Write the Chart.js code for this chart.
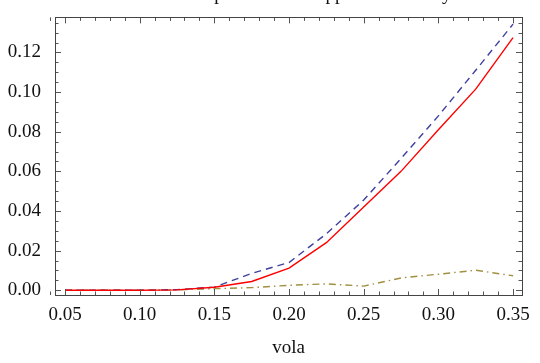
<!DOCTYPE html>
<html>
<head>
<meta charset="utf-8">
<script src="https://cdn.jsdelivr.net/npm/chart.js@4/dist/chart.umd.min.js"></script>
<style>
  html, body { margin: 0; padding: 0; background: #fff; }
  #wrap { width: 540px; height: 363px; }
</style>
</head>
<body>
<div id="wrap"><canvas id="volaChart" width="540" height="363"></canvas></div>
<script>
// values
const titleText = 'Relative error of the price and the approximation by vola';
const vola = [0.05, 0.075, 0.10, 0.125, 0.15, 0.175, 0.20, 0.225, 0.25, 0.275, 0.30, 0.325, 0.35];
const priceRed = [0, 0, 0, 0.0002, 0.0015, 0.0044, 0.0112, 0.024, 0.042, 0.060, 0.081, 0.1015, 0.1275];
const priceBlue = [0, 0, 0, 0.0003, 0.0016, 0.0085, 0.014, 0.0285, 0.0455, 0.0665, 0.088, 0.111, 0.1343];
const priceOlive = [0, 0, 0, 0.0002, 0.0008, 0.0013, 0.0025, 0.0032, 0.0021, 0.0062, 0.0081, 0.0101, 0.0073];
const xTicks = [0.05, 0.10, 0.15, 0.20, 0.25, 0.30, 0.35];
const yTicks = [0.00, 0.02, 0.04, 0.06, 0.08, 0.10, 0.12];

const serif = 'Liberation Serif';
const toPoints = ys => vola.map((v, i) => ({ x: v, y: ys[i] }));

// Mathematica style frame: ticks pointing inwards on all four sides
const frameTicks = {
  id: 'frameTicks',
  afterDraw(chart) {
    const { ctx, chartArea: a, scales: { x, y } } = chart;
    ctx.save();
    ctx.strokeStyle = '#555';
    ctx.lineWidth = 1;
    ctx.beginPath();
    // minor x ticks every 0.01
    for (let k = 4; k <= 35; k++) {
      const px = Math.round(x.getPixelForValue(k / 100)) + 0.5;
      const len = k % 5 === 0 ? 6 : 3.5;
      ctx.moveTo(px, a.bottom); ctx.lineTo(px, a.bottom - len);
      ctx.moveTo(px, a.top); ctx.lineTo(px, a.top + len);
    }
    // minor y ticks every 0.005
    for (let k = 0; k <= 27; k++) {
      const py = Math.round(y.getPixelForValue(k * 0.005)) + 0.5;
      const len = k % 4 === 0 ? 6 : 3.5;
      ctx.moveTo(a.left, py); ctx.lineTo(a.left + len, py);
      ctx.moveTo(a.right, py); ctx.lineTo(a.right - len, py);
    }
    ctx.stroke();
    ctx.strokeStyle = '#444';
    ctx.strokeRect(Math.round(a.left) + 0.5, Math.round(a.top) + 0.5,
      Math.round(a.right - a.left), Math.round(a.bottom - a.top));
    // plot label, mostly above the visible image
    ctx.fillStyle = '#111';
    ctx.font = '19px "' + serif + '"';
    ctx.textAlign = 'center';
    ctx.textBaseline = 'alphabetic';
    ctx.fillText(titleText, (a.left + a.right) / 2 - 16, 0);
    ctx.restore();
  }
};

const ctx = document.getElementById('volaChart').getContext('2d');
new Chart(ctx, {
  type: 'line',
  data: {
    datasets: [
      {
        label: 'price',
        data: toPoints(priceRed),
        borderColor: '#ff0000',
        borderWidth: 1.4,
        pointRadius: 0,
        tension: 0
      },
      {
        label: 'approximation',
        data: toPoints(priceBlue),
        borderColor: '#40409e',
        borderWidth: 1.4,
        borderDash: [7, 5],
        pointRadius: 0,
        tension: 0
      },
      {
        label: 'error',
        data: toPoints(priceOlive),
        borderColor: '#a09040',
        borderWidth: 1.4,
        borderDash: [7, 4, 1.5, 4],
        pointRadius: 0,
        tension: 0
      }
    ]
  },
  options: {
    responsive: false,
    animation: false,
    layout: { padding: { top: 7, right: 18, left: 0, bottom: 0 } },
    plugins: {
      legend: { display: false },
      tooltip: { enabled: false }
    },
    scales: {
      x: {
        type: 'linear',
        min: 0.0433,
        max: 0.356,
        grid: { display: false },
        border: { display: false },
        afterFit: s => { s.height = 68; },
        afterBuildTicks: s => { s.ticks = xTicks.map(v => ({ value: v })); },
        ticks: {
          padding: 1,
          color: '#111',
          font: { family: serif, size: 19 },
          callback: v => v.toFixed(2)
        },
        title: {
          display: true,
          text: 'vola',
          color: '#111',
          font: { family: serif, size: 19 },
          padding: { top: 0, bottom: 4 }
        }
      },
      y: {
        type: 'linear',
        min: -0.0024,
        max: 0.1377,
        grid: { display: false },
        border: { display: false },
        afterFit: s => { s.width = 55; },
        afterBuildTicks: s => { s.ticks = yTicks.map(v => ({ value: v })); },
        ticks: {
          padding: 6,
          color: '#111',
          font: { family: serif, size: 19 },
          callback: v => v.toFixed(2)
        }
      }
    }
  },
  plugins: [frameTicks]
});
</script>
</body>
</html>
